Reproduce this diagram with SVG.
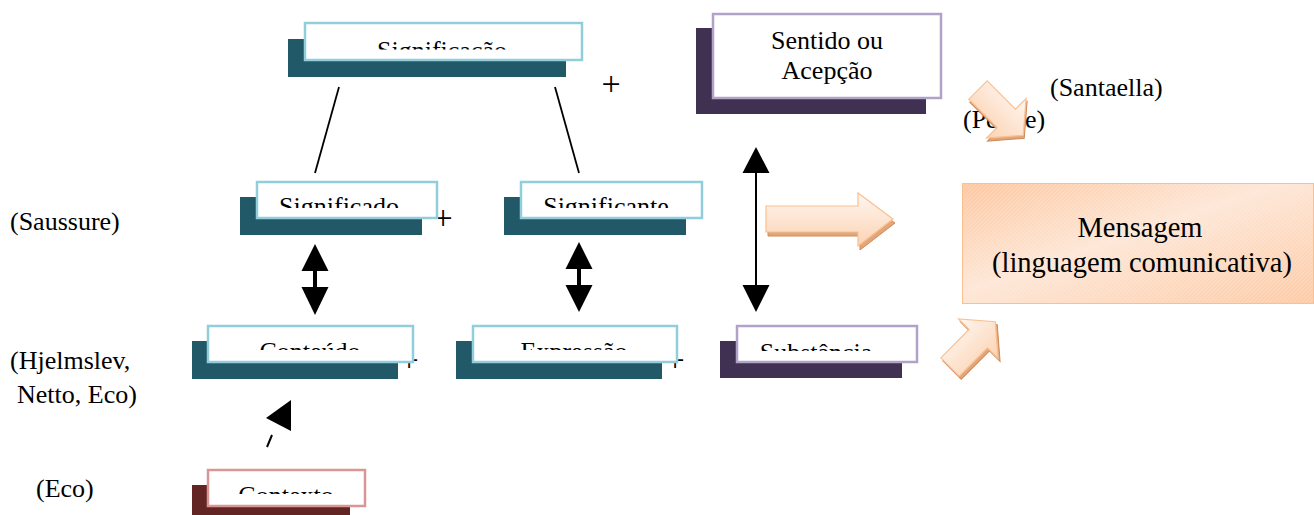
<svg xmlns="http://www.w3.org/2000/svg" width="1314" height="515" viewBox="0 0 1314 515" font-family="Liberation Serif, Times New Roman, DejaVu Serif, serif">
<style>
.dt{fill:#215968}
.bt{fill:#fff;stroke:#92CDDC;stroke-width:2.5}
.dp{fill:#403152}
.bp{fill:#fff;stroke:#B3A2C7;stroke-width:2.5}
.dr{fill:#632523}
.br{fill:#fff;stroke:#D99694;stroke-width:2.5}
.t{font-family:'Liberation Serif','Times New Roman','DejaVu Serif',serif;font-size:26px;fill:#000}
.c{text-anchor:middle}
.pl{font-family:'Liberation Serif','Times New Roman','DejaVu Serif',serif;font-size:34px;fill:#000;text-anchor:middle}
.ln{stroke:#000;stroke-width:1.8;fill:none}
.ah{fill:#000}
.ba{fill:url(#gArrow);stroke:#FAC090;stroke-width:1.2}
.bs{fill:#E2A678;stroke:#D0895A;stroke-width:1}
</style>
<defs>
<linearGradient id="gArrow" x1="0" y1="0" x2="0" y2="1">
<stop offset="0" stop-color="#FFF6F0"/>
<stop offset="1" stop-color="#FBD3B3"/>
</linearGradient>
<linearGradient id="gMsg" x1="0" y1="0" x2="1" y2="1">
<stop offset="0" stop-color="#FBC9A5"/>
<stop offset="0.45" stop-color="#FDE7D8"/>
<stop offset="1" stop-color="#FBCCAA"/>
</linearGradient>
<pattern id="hatch" width="4" height="4" patternUnits="userSpaceOnUse">
<path d="M0,4 L4,0" stroke="#FFFFFF" stroke-opacity="0.25" stroke-width="0.7"/>
</pattern>
<path id="arr" d="M0,-13 L40,-13 L40,-28 L64,0 L40,28 L40,13 L0,13 Z"/>
<clipPath id="cp1"><rect x="305" y="23" width="277" height="26.5"/></clipPath>
<clipPath id="cp2"><rect x="257" y="182" width="180" height="26"/></clipPath>
<clipPath id="cp3"><rect x="521" y="182" width="181" height="26"/></clipPath>
<clipPath id="cp4"><rect x="208" y="326" width="205" height="24"/></clipPath>
<clipPath id="cp5"><rect x="473" y="326" width="204" height="24"/></clipPath>
<clipPath id="cp6"><rect x="737" y="326" width="180" height="25"/></clipPath>
<clipPath id="cp7"><rect x="208" y="470" width="157" height="24"/></clipPath>
</defs>
<rect width="1314" height="515" fill="#fff"/>

<g id="plus-signs" font-family="Liberation Serif, serif">
<text class="pl" x="611" y="94.5">+</text>
<text class="pl" x="443" y="228.5">+</text>
<text class="pl" x="409" y="370.5">+</text>
<text class="pl" x="675" y="370.5">+</text>
</g>

<g id="connectors">
<line class="ln" x1="339" y1="87" x2="315" y2="173"/>
<line class="ln" x1="555" y1="87" x2="579" y2="173"/>
<polygon class="ah" points="315,244 301.5,271 328.5,271"/>
<rect class="ah" x="313" y="270" width="4" height="18"/>
<polygon class="ah" points="301.5,287 328.5,287 315,315"/>
<polygon class="ah" points="579,242 565.5,269 592.5,269"/>
<rect class="ah" x="577" y="268" width="4" height="18"/>
<polygon class="ah" points="565.5,285 592.5,285 579,312"/>
<polygon class="ah" points="756,147 742.5,173 769.5,173"/>
<line x1="756" y1="172" x2="756" y2="286" stroke="#000" stroke-width="2"/>
<polygon class="ah" points="742.5,285 769.5,285 756,312"/>
<polygon class="ah" points="266,418 291,400 291,431"/>
<line x1="272" y1="435" x2="267" y2="447" stroke="#000" stroke-width="2"/>
</g>

<g id="node-significacao">
<rect class="dt" x="288" y="39" width="278" height="38"/>
<rect class="bt" x="305" y="23" width="277" height="37"/>
<text class="t c" font-family="Liberation Serif, serif" x="442" y="59" clip-path="url(#cp1)">Significação</text>
</g>
<g id="node-sentido">
<rect class="dp" x="696" y="28" width="230" height="86"/>
<rect class="bp" x="713" y="14" width="228" height="84"/>
<text class="t c" font-family="Liberation Serif, serif" x="827" y="49">Sentido ou</text>
<text class="t c" font-family="Liberation Serif, serif" x="827" y="79">Acepção</text>
</g>
<g id="node-significado">
<rect class="dt" x="240" y="197" width="182" height="38"/>
<rect class="bt" x="257" y="182" width="180" height="36"/>
<text class="t c" font-family="Liberation Serif, serif" x="339" y="215" clip-path="url(#cp2)">Significado</text>
</g>
<g id="node-significante">
<rect class="dt" x="504" y="197" width="182" height="38"/>
<rect class="bt" x="521" y="182" width="181" height="36"/>
<text class="t c" font-family="Liberation Serif, serif" x="606" y="215" clip-path="url(#cp3)">Significante</text>
</g>
<g id="node-conteudo">
<rect class="dt" x="192" y="341" width="206" height="38"/>
<rect class="bt" x="208" y="326" width="205" height="36"/>
<text class="t c" font-family="Liberation Serif, serif" x="310" y="360" clip-path="url(#cp4)">Conteúdo</text>
</g>
<g id="node-expressao">
<rect class="dt" x="456" y="341" width="206" height="38"/>
<rect class="bt" x="473" y="326" width="204" height="36"/>
<text class="t c" font-family="Liberation Serif, serif" x="574" y="360" clip-path="url(#cp5)">Expressão</text>
</g>
<g id="node-substancia">
<rect class="dp" x="720" y="341" width="182" height="37"/>
<rect class="bp" x="737" y="326" width="180" height="36"/>
<text class="t c" font-family="Liberation Serif, serif" x="816" y="361" clip-path="url(#cp6)">Substância</text>
</g>
<g id="node-contexto">
<rect class="dr" x="192" y="485" width="158" height="30"/>
<rect class="br" x="208" y="470" width="157" height="36"/>
<text class="t c" font-family="Liberation Serif, serif" x="286" y="504" clip-path="url(#cp7)">Contexto</text>
</g>
<g id="node-mensagem">
<rect x="962.5" y="183.5" width="351" height="120" fill="url(#gMsg)" stroke="#FAC090" stroke-width="1"/>
<rect x="963" y="184" width="350" height="119" fill="url(#hatch)"/>
<text class="t c" font-family="Liberation Serif, serif" x="1140" y="237" style="font-size:28.5px">Mensagem</text>
<text class="t c" font-family="Liberation Serif, serif" x="1142" y="272" style="font-size:28.5px">(linguagem comunicativa)</text>
</g>

<g id="labels" font-family="Liberation Serif, serif">
<text class="t" x="1050" y="96">(Santaella)</text>
<text class="t" x="963" y="128">(Peirce)</text>
<text class="t" x="10" y="230">(Saussure)</text>
<text class="t" x="10" y="369">(Hjelmslev,</text>
<text class="t" x="17" y="403">Netto, Eco)</text>
<text class="t" x="36" y="497">(Eco)</text>
</g>

<g id="block-arrows">
<g transform="translate(2,4)"><path class="bs" d="M766,206 L858,206 L858,193 L893,219 L858,246 L858,232 L766,232 Z"/></g>
<path class="ba" d="M766,206 L858,206 L858,193 L893,219 L858,246 L858,232 L766,232 Z"/>
<g transform="translate(1,3)"><use href="#arr" class="bs" transform="translate(978,90) rotate(45)"/></g>
<use href="#arr" class="ba" transform="translate(978,90) rotate(45)"/>
<g transform="translate(2,3)"><use href="#arr" class="bs" transform="translate(950,367) rotate(-45)"/></g>
<use href="#arr" class="ba" transform="translate(950,367) rotate(-45)"/>
</g>
</svg>
